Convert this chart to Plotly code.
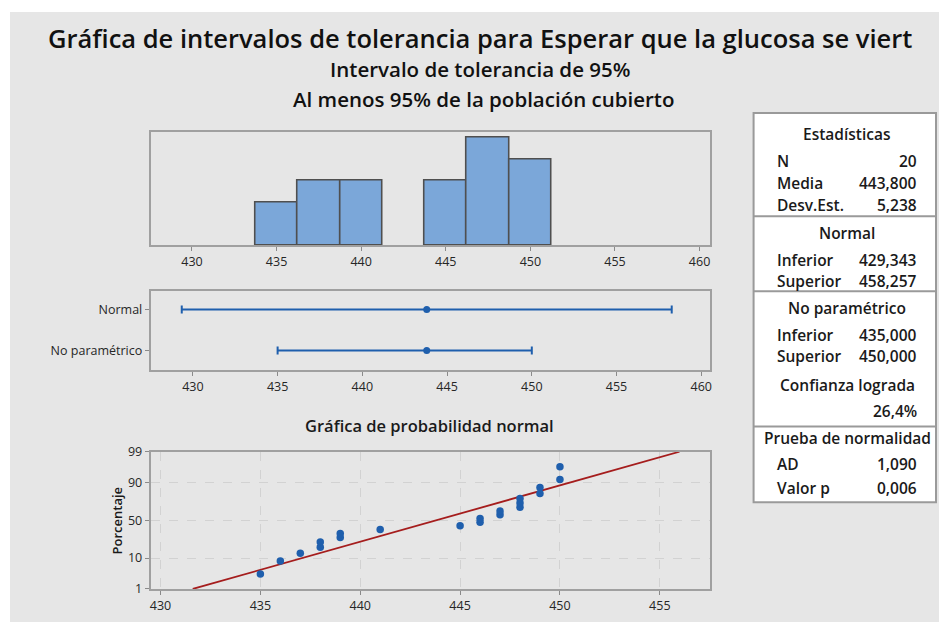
import numpy as np
import plotly.graph_objects as go
from statistics import NormalDist

# ---- data -------------------------------------------------------------
glucosa = [435, 436, 437, 438, 438, 439, 439, 441, 445, 446,
           446, 447, 447, 448, 448, 448, 449, 449, 450, 450]
media = 443.8
desv_est = 5.238

intervalos = ["Normal", "No paramétrico"]
limite_inf = [429.343, 435.000]
limite_sup = [458.257, 450.000]

x_ticks = [430, 435, 440, 445, 450, 455, 460]
prob_x_ticks = [430, 435, 440, 445, 450, 455]
pct_ticks = [1, 10, 50, 90, 99]

tabla_titulos = ["Estadísticas", "Normal", "No paramétrico", "Prueba de normalidad"]
tabla_etiquetas = ["N", "Media", "Desv.Est.", "Inferior", "Superior",
                   "Inferior", "Superior", "AD", "Valor p"]
tabla_valores = ["20", "443,800", "5,238", "429,343", "458,257",
                 "435,000", "450,000", "1,090", "0,006"]
confianza_txt = "Confianza lograda"
confianza_val = "26,4%"

# ---- helpers ----------------------------------------------------------
W, H = 941, 630
def px(x):
    return x / W
def py(y):
    return 1 - y / H

FONT = "Open Sans"
TXT = "#1a1a1a"
BLUE = "#1f5fad"
FRAME = "#a0a0a0"

fig = go.Figure()

# histogram
fig.add_trace(go.Histogram(
    x=glucosa, xbins=dict(start=433.75, end=451.25, size=2.5),
    marker=dict(color="#7ba7d9", line=dict(color="#4f4f4f", width=1.6)),
    xaxis="x", yaxis="y", showlegend=False))

# tolerance intervals
yi = [1, 0]
fig.add_trace(go.Scatter(
    x=[media, media], y=yi, mode="markers",
    marker=dict(color=BLUE, size=7),
    error_x=dict(type="data", symmetric=False,
                 array=[s - media for s in limite_sup],
                 arrayminus=[media - i for i in limite_inf],
                 color=BLUE, thickness=2, width=4),
    xaxis="x2", yaxis="y2", showlegend=False))

# normal probability plot
nd = NormalDist()
orden = sorted(glucosa)
n = len(orden)
z_pts = [nd.inv_cdf((i - 0.3) / (n + 0.4)) for i in range(1, n + 1)]
z_lo, z_hi = nd.inv_cdf(0.01), nd.inv_cdf(0.99)
fig.add_trace(go.Scatter(
    x=[media + z_lo * desv_est, media + z_hi * desv_est], y=[z_lo, z_hi],
    mode="lines", line=dict(color="#a51d1d", width=1.8),
    xaxis="x3", yaxis="y3", showlegend=False))
fig.add_trace(go.Scatter(
    x=orden, y=z_pts, mode="markers",
    marker=dict(color=BLUE, size=7.5),
    xaxis="x3", yaxis="y3", showlegend=False))

axis_common = dict(showline=True, mirror=True, linecolor=FRAME, linewidth=1.5,
                   ticks="outside", ticklen=4, tickcolor="#8a8a8a",
                   tickfont=dict(family=FONT, size=12.5, color="#262626"),
                   zeroline=False)

shapes = [
    # grey page with thin white border strips
    dict(type="rect", xref="paper", yref="paper", x0=px(9), x1=1, y0=0, y1=py(3),
         fillcolor="#e6e6e6", line=dict(width=0), layer="below"),
    # statistics table
    dict(type="rect", xref="paper", yref="paper", x0=px(755), x1=px(938),
         y0=py(507), y1=py(107), fillcolor="white",
         line=dict(color="#9a9a9a", width=2)),
]
for ys in [213, 290, 429]:
    shapes.append(dict(type="line", xref="paper", yref="paper",
                       x0=px(755), x1=px(938), y0=py(ys), y1=py(ys),
                       line=dict(color="#9a9a9a", width=2)))

annotations = [
    dict(text="Gráfica de intervalos de tolerancia para Esperar que la glucosa se viert",
         x=px(481), y=py(30), font=dict(size=25.5, family=FONT, color="#111111", weight=600)),
    dict(text="Intervalo de tolerancia de 95%",
         x=px(481), y=py(62), font=dict(size=20.5, family=FONT, color="#111111", weight=600)),
    dict(text="Al menos 95% de la población cubierto",
         x=px(484), y=py(93), font=dict(size=20.5, family=FONT, color="#111111", weight=600)),
    dict(text="Gráfica de probabilidad normal",
         x=px(430), y=py(428), font=dict(size=16.5, family=FONT, color=TXT, weight=600)),
    dict(text="Porcentaje", x=px(116), y=py(526), textangle=-90,
         font=dict(size=13, family=FONT, color=TXT, weight=600)),
]
for a in annotations:
    a.update(xref="paper", yref="paper", showarrow=False,
             xanchor="center", yanchor="middle")

# table text
tab_font = dict(size=15.5, family=FONT, color=TXT, weight=600)
titulo_y = [128, 230, 307, 441]
for t, yy in zip(tabla_titulos, titulo_y):
    annotations.append(dict(text=t, x=px(849), y=py(yy), xref="paper", yref="paper",
                            showarrow=False, xanchor="center", yanchor="middle",
                            font=tab_font))
fila_y = [156, 179, 201, 258, 280, 335, 357, 468, 492]
for lab, val, yy in zip(tabla_etiquetas, tabla_valores, fila_y):
    annotations.append(dict(text=lab, x=px(776), y=py(yy), xref="paper", yref="paper",
                            showarrow=False, xanchor="left", yanchor="middle",
                            font=tab_font))
    annotations.append(dict(text=val, x=px(921), y=py(yy), xref="paper", yref="paper",
                            showarrow=False, xanchor="right", yanchor="middle",
                            font=tab_font))
annotations.append(dict(text=confianza_txt, x=px(849), y=py(386), xref="paper",
                        yref="paper", showarrow=False, xanchor="center",
                        yanchor="middle", font=tab_font))
annotations.append(dict(text=confianza_val, x=px(921), y=py(413), xref="paper",
                        yref="paper", showarrow=False, xanchor="right",
                        yanchor="middle", font=tab_font))

fig.update_layout(
    width=W, height=H, margin=dict(l=0, r=0, t=0, b=0),
    paper_bgcolor="white", plot_bgcolor="white",
    bargap=0, font=dict(family=FONT, color=TXT),
    xaxis=dict(domain=[px(150), px(711)], range=[427.55, 460.6],
               tickvals=x_ticks, anchor="y", showgrid=False, **axis_common),
    yaxis=dict(domain=[py(243), py(126)], range=[0, 5.3], showticklabels=False,
               showline=True, mirror=True, linecolor=FRAME, linewidth=1.5,
               ticks="", showgrid=False, zeroline=False, anchor="x"),
    xaxis2=dict(domain=[px(150), px(711)], range=[427.5, 460.5],
                tickvals=x_ticks, anchor="y2", showgrid=False, **axis_common),
    yaxis2=dict(domain=[py(371), py(290)], range=[-0.48, 1.45],
                tickvals=yi, ticktext=intervalos, anchor="x2", showgrid=False,
                **axis_common),
    xaxis3=dict(domain=[px(150), px(711)], range=[429.5, 457.5],
                tickvals=prob_x_ticks, anchor="y3", showgrid=True,
                gridcolor="#d2d2d2", griddash="dash", gridwidth=1, **axis_common),
    yaxis3=dict(domain=[py(596), py(455)], range=[z_lo, z_hi],
                tickvals=[nd.inv_cdf(p / 100) for p in pct_ticks],
                ticktext=[str(p) for p in pct_ticks], anchor="x3",
                showgrid=True, gridcolor="#d2d2d2", griddash="dash", gridwidth=1,
                **axis_common),
    shapes=shapes, annotations=annotations,
)

fig.write_html("out.html")
